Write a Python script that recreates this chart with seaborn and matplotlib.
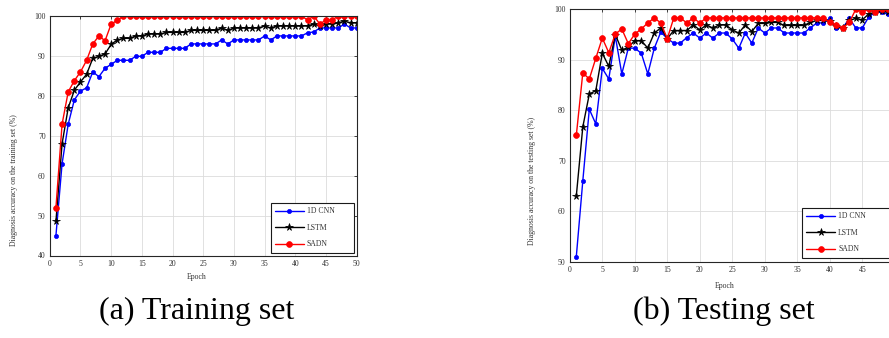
import matplotlib
matplotlib.use("Agg")
import matplotlib.pyplot as plt
import seaborn as sns
import numpy as np
import pandas as pd

# ---------------- data ----------------
epochs = list(range(1, 51))

train_cnn = [45, 63, 72.9, 79, 81.2, 82, 86, 84.8, 86.9, 87.9,
             88.9, 88.9, 88.9, 89.9, 89.9, 90.9, 90.9, 90.9, 91.9, 91.9,
             91.9, 91.9, 93, 93, 93, 93, 93, 94, 93, 94,
             94, 94, 94, 94, 95, 94, 95, 95, 95, 95,
             95, 95.8, 96, 97, 97, 97, 97, 98, 97, 97]
train_lstm = [48.6, 68, 77, 81.4, 83.5, 85.4, 89.4, 89.9, 90.5, 92.9,
              94, 94.4, 94.4, 95, 95, 95.5, 95.5, 95.5, 95.9, 95.9,
              95.9, 95.9, 96.4, 96.4, 96.4, 96.4, 96.4, 97, 96.4, 97,
              97, 97, 97, 97, 97.5, 97, 97.5, 97.5, 97.5, 97.5,
              97.5, 97.5, 98, 97.5, 98, 98, 98.3, 98.7, 98.3, 98.3]
train_sadn = [52, 72.9, 81, 83.8, 86, 88.9, 93, 95, 93.8, 98,
              98.9, 100, 100, 100, 100, 100, 100, 100, 100, 100,
              100, 100, 100, 100, 100, 100, 100, 100, 100, 100,
              100, 100, 100, 100, 100, 100, 100, 100, 100, 100,
              100, 99, 100, 98, 99, 99, 100, 100, 100, 100]

test_cnn = [51, 66, 80.2, 77.3, 88.3, 86.2, 94.7, 87.2, 92.3, 92.3,
            91.3, 87.2, 92.3, 95.5, 94.2, 93.3, 93.3, 94.4, 95.3, 94.3,
            95.3, 94.3, 95.3, 95.3, 94.1, 92.3, 95.3, 93.3, 96.3, 95.3,
            96.3, 96.3, 95.3, 95.3, 95.3, 95.3, 96.3, 97.3, 97.3, 98.2,
            96.3, 96.3, 98.2, 96.3, 96.3, 98.5, 99.4, 99.4, 99, 99]
test_lstm = [63, 76.7, 83.2, 83.9, 91.3, 88.7, 95, 91.9, 92.5, 93.8,
             93.8, 92.3, 95.3, 96.3, 94.2, 95.8, 95.8, 95.8, 96.9, 95.9,
             96.9, 96.3, 96.9, 96.9, 95.9, 95.3, 96.9, 95.6, 97.2, 97.2,
             97.4, 97.4, 96.8, 96.8, 96.8, 96.8, 97.4, 97.8, 97.8, 97.6,
             96.6, 96.3, 97.8, 98.2, 97.9, 99.1, 99.4, 99.6, 99.4, 99]
test_sadn = [75, 87.4, 86.2, 90.3, 94.3, 91.4, 95.1, 96.1, 93.2, 95.1,
             96.1, 97.3, 98.3, 97.3, 94.2, 98.3, 98.3, 97.3, 98.3, 97.3,
             98.3, 98.3, 98.3, 98.3, 98.3, 98.3, 98.3, 98.3, 98.3, 98.3,
             98.3, 98.3, 98.3, 98.3, 98.3, 98.3, 98.3, 98.3, 98.3, 97.4,
             96.9, 96.3, 97.4, 100, 99.5, 100, 99.5, 100, 100, 100]

series_names = ["1D CNN", "LSTM", "SADN"]
x_ticks = list(range(0, 51, 5))
train_yticks = list(range(40, 101, 10))
test_yticks = list(range(50, 101, 10))
xlabel = "Epoch"
train_ylabel = "Diagnosis accuracy on the training set (%)"
test_ylabel = "Diagnosis accuracy on the testing set (%)"
captions = ["(a) Training set", "(b) Testing set"]

# ---------------- style ----------------
sns.set_style("white")
plt.rcParams["font.family"] = ["Liberation Serif", "DejaVu Serif"]
plt.rcParams["axes.unicode_minus"] = False

colors = ["#0000ff", "#000000", "#ff0000"]
markers = ["o", "*", "o"]
msizes = [3.0, 5.5, 4.2]
FS = 5.6
TXT = "#333333"

fig = plt.figure(figsize=(8.89, 3.38), dpi=100)
W, H = 889.0, 338.0

def make_axes(x0, x1, ytop, ybot):
    return fig.add_axes([x0 / W, 1 - ybot / H, (x1 - x0) / W, (ybot - ytop) / H])

ax1 = make_axes(49.8, 356.7, 16.0, 255.5)
ax2 = make_axes(569.8, 894.8, 9.3, 261.7)

def draw(ax, data, yticks, ylabel, ylab_y, xlab_x, xlab_y, leg_box):
    for vals, name, c, m, ms in zip(data, series_names, colors, markers, msizes):
        df = pd.DataFrame({"Epoch": epochs, "Acc": vals})
        sns.lineplot(data=df, x="Epoch", y="Acc", ax=ax, color=c, marker=m,
                     markersize=ms, markeredgecolor=c, markerfacecolor=c,
                     markeredgewidth=0.5, linewidth=1.0, label=name, clip_on=True)
    ax.set_xlim(0, 50)
    ax.set_ylim(yticks[0], yticks[-1])
    ax.set_xticks(x_ticks)
    ax.set_yticks(yticks)
    ax.grid(True, color="#dcdcdc", linewidth=0.6)
    ax.set_axisbelow(True)
    for s in ax.spines.values():
        s.set_visible(True)
        s.set_color("#262626")
        s.set_linewidth(0.8)
    ax.tick_params(direction="in", length=2.2, width=0.6, top=True, right=True,
                   labelsize=FS, colors="#262626", labelcolor=TXT, pad=3)
    ax.set_xlabel(xlabel, fontsize=FS, color=TXT)
    ax.set_ylabel(ylabel, fontsize=FS, color=TXT)
    ax.xaxis.set_label_coords(xlab_x, xlab_y)
    ax.yaxis.set_label_coords(-0.105, ylab_y)
    leg = ax.legend(loc="lower left", bbox_to_anchor=leg_box, mode="expand",
                    frameon=True, fancybox=False, edgecolor="#1a1a1a",
                    framealpha=1, fontsize=FS, handlelength=3.7,
                    handletextpad=0.4, borderpad=0.55, labelspacing=1.1,
                    borderaxespad=0)
    leg.get_frame().set_linewidth(0.8)
    for t in leg.get_texts():
        t.set_color(TXT)

draw(ax1, [train_cnn, train_lstm, train_sadn], train_yticks, train_ylabel,
     0.315, 0.48, -0.075, (0.72, 0.012, 0.271, 0.206))
draw(ax2, [test_cnn, test_lstm, test_sadn], test_yticks, test_ylabel,
     0.32, 0.477, -0.082, (0.714, 0.016, 0.272, 0.209))

fig.text(197 / W, 1 - 311 / H, captions[0], ha="center", va="center",
         fontsize=23, color="black")
fig.text(724 / W, 1 - 311 / H, captions[1], ha="center", va="center",
         fontsize=23, color="black")

fig.savefig("out.png", dpi=100)
